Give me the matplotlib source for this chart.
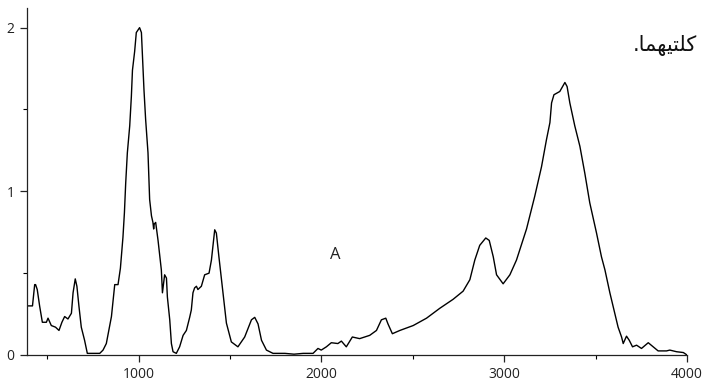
import matplotlib
matplotlib.use("Agg")
import matplotlib.pyplot as plt
from matplotlib.ticker import MultipleLocator

# spectrum trace (wavenumber, absorbance)
wavenumber = [389, 419, 431, 436, 445, 458, 473, 495, 504, 522,
              545, 564, 580, 595, 613, 632, 641, 653, 662, 673,
              686, 704, 719, 787, 805, 823, 851, 869, 887, 900,
              914, 922, 929, 938, 951, 960, 966, 978, 987, 1005,
              1015, 1020, 1029, 1038, 1051, 1060, 1070, 1078, 1082, 1085,
              1093, 1106, 1124, 1130, 1142, 1152, 1157, 1170, 1179, 1188,
              1206, 1224, 1243, 1261, 1279, 1288, 1297, 1306, 1316, 1324,
              1343, 1361, 1385, 1398, 1416, 1425, 1439, 1461, 1480, 1507,
              1543, 1580, 1617, 1635, 1653, 1672, 1699, 1735, 1800, 1850,
              1900, 1954, 1981, 1999, 2027, 2054, 2090, 2109, 2136, 2169,
              2209, 2264, 2301, 2328, 2352, 2364, 2388, 2429, 2502, 2575,
              2647, 2720, 2775, 2812, 2839, 2866, 2899, 2918, 2940, 2958,
              2994, 3031, 3067, 3122, 3167, 3204, 3231, 3250, 3259, 3272,
              3304, 3332, 3344, 3359, 3386, 3414, 3441, 3468, 3505, 3532,
              3551, 3578, 3605, 3623, 3642, 3651, 3669, 3684, 3702, 3724,
              3751, 3788, 3815, 3842, 3888, 3906, 3943, 3980, 4000]
absorbance = [0.30, 0.30, 0.43, 0.43, 0.40, 0.30, 0.20, 0.20, 0.225, 0.18,
              0.17, 0.15, 0.20, 0.235, 0.22, 0.255, 0.38, 0.465, 0.42, 0.30,
              0.17, 0.09, 0.01, 0.01, 0.03, 0.07, 0.235, 0.43, 0.43, 0.53,
              0.72, 0.87, 1.05, 1.235, 1.40, 1.58, 1.74, 1.855, 1.97, 2.00,
              1.97, 1.85, 1.62, 1.44, 1.235, 0.95, 0.85, 0.81, 0.77, 0.80,
              0.81, 0.70, 0.52, 0.38, 0.49, 0.47, 0.355, 0.215, 0.07, 0.02,
              0.01, 0.05, 0.12, 0.15, 0.23, 0.275, 0.38, 0.41, 0.42, 0.40,
              0.42, 0.49, 0.50, 0.58, 0.765, 0.745, 0.60, 0.38, 0.195, 0.08,
              0.05, 0.11, 0.215, 0.23, 0.19, 0.09, 0.03, 0.01, 0.01, 0.005,
              0.01, 0.01, 0.04, 0.03, 0.05, 0.075, 0.07, 0.085, 0.05, 0.11,
              0.10, 0.12, 0.15, 0.215, 0.225, 0.19, 0.13, 0.15, 0.18, 0.225,
              0.285, 0.34, 0.39, 0.46, 0.58, 0.67, 0.715, 0.70, 0.60, 0.49,
              0.435, 0.49, 0.58, 0.77, 0.97, 1.15, 1.315, 1.42, 1.54, 1.59,
              1.61, 1.665, 1.64, 1.54, 1.40, 1.275, 1.11, 0.93, 0.745, 0.60,
              0.52, 0.38, 0.255, 0.17, 0.11, 0.07, 0.115, 0.09, 0.05, 0.06,
              0.04, 0.075, 0.05, 0.025, 0.025, 0.03, 0.02, 0.015, 0.0]

x_ticks = [1000, 2000, 3000, 4000]
y_ticks = [0, 1, 2]
label_text = "A"
# Arabic word from the surrounding page, in presentation forms (visual order)
page_word = ".\uFE8E\uFEE4\uFEEC\uFEF4\uFE98\uFEE0\uFEDB"

plt.rcParams['font.family'] = ['Open Sans', 'DejaVu Sans']

fig = plt.figure(figsize=(7.05, 3.87), dpi=100)
ax = fig.add_axes([27 / 705, 32 / 387, 660 / 705, 347 / 387])

ax.plot(wavenumber, absorbance, color='black', linewidth=1.0)

ax.set_xlim(389, 4000)
ax.set_ylim(0, 2.12)
ax.set_xticks(x_ticks)
ax.set_yticks(y_ticks)
ax.xaxis.set_minor_locator(MultipleLocator(500))
ax.yaxis.set_minor_locator(MultipleLocator(0.5))
ax.tick_params(which='major', direction='out', length=5, width=0.9,
               labelsize=10, colors='#222222', pad=4)
ax.tick_params(which='minor', direction='out', length=3, width=0.8)

for side in ['top', 'right']:
    ax.spines[side].set_visible(False)
for side in ['left', 'bottom']:
    ax.spines[side].set_linewidth(0.9)
    ax.spines[side].set_color('#222222')

ax.text(2076, 0.61, label_text, fontsize=12, ha='center', va='center', color='#222222')

fig.text(697 / 705, 1 - 45 / 387, page_word, fontsize=15, ha='right', va='center',
         family='DejaVu Sans', color='#111111')

fig.savefig("out.png", dpi=100)
